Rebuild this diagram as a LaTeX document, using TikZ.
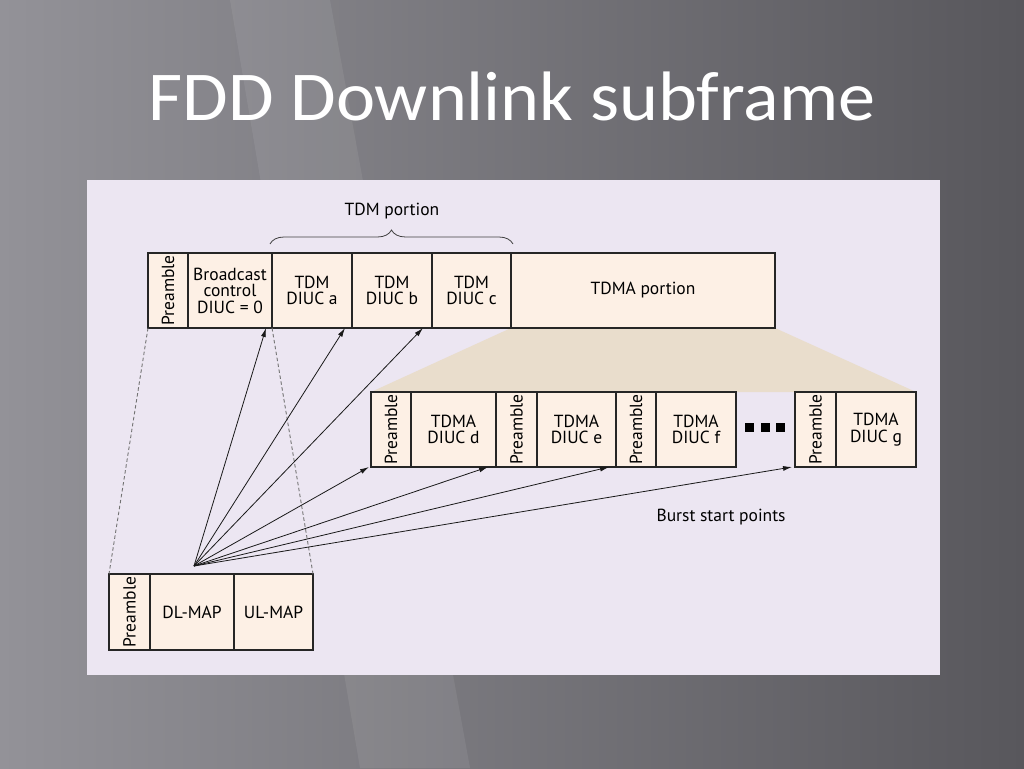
\documentclass[tikz,border=0pt]{standalone}
\usepackage{fontspec}
\setmainfont{PT Sans}
\newfontfamily\titlefont{Carlito}
\usetikzlibrary{arrows.meta,positioning,calc,decorations.pathreplacing,backgrounds}
\definecolor{slidelight}{HTML}{939298}
\definecolor{slidedark}{HTML}{58575C}
\definecolor{panel}{HTML}{ECE6F2}
\definecolor{cellfill}{HTML}{FDF0E5}
\definecolor{zoomfill}{HTML}{E9DDCC}
\pgfdeclarelayer{backdrop}
\pgfsetlayers{backdrop,background,main}
\begin{document}
\begin{tikzpicture}[x=1pt,y=-1pt,
  cell/.style={draw=black!85,line width=1.1pt,fill=cellfill,outer sep=0pt,inner sep=0pt,
    minimum height=75pt,font=\fontsize{17.5}{16.5}\selectfont,align=center},
  prebox/.style={cell,minimum width=40pt},
  link/.style={-{Latex[length=9pt,width=5pt]},line width=0.8pt,black!90},
  guide/.style={dashed,dash pattern=on 3.5pt off 2.5pt,line width=0.9pt,black!55},
  every node/.style={font=\fontsize{17.5}{16.5}\selectfont},
]
  \useasboundingbox (0,0) rectangle (1024,768);
  \begin{pgfonlayer}{backdrop}
    \shade[left color=slidelight,right color=slidedark] (0,0) rectangle (1024,768);
    \fill[white,opacity=0.07] (230,0) -- (330,0) -- (470,768) -- (360,768) -- cycle;
    \fill[panel] (87,180) rectangle (940,675);
  \end{pgfonlayer}

  \node[font=\titlefont\fontsize{70}{70}\selectfont,text=white,anchor=base] (title) at (512,120)
    {\scalebox{1.06}[1]{FDD Downlink subframe}};

  % frame
  \node[prebox,anchor=north west] (pre0) at (148,253) {\rotatebox{90}{Preamble}};
  \node[cell,minimum width=84pt,right=0pt of pre0] (bcast) {Broadcast\\control\\DIUC = 0};
  \node[cell,minimum width=80pt,right=0pt of bcast] (tdma) {TDM\\DIUC a};
  \node[cell,minimum width=80pt,right=0pt of tdma] (tdmb) {TDM\\DIUC b};
  \node[cell,minimum width=79pt,right=0pt of tdmb] (tdmc) {TDM\\DIUC c};
  \node[cell,minimum width=264pt,right=0pt of tdmc] (tdmaport) {TDMA portion};

  \draw[decorate,decoration={brace,amplitude=14pt},line width=0.8pt,black!75]
    ($(tdma.north west)+(-2,-9)$) -- ($(tdmc.north east)+(2,-9)$);
  \node at (392,211) (tdmlabel) {TDM portion};

  % bursts
  \node[prebox,anchor=north west] (pred) at (371,392) {\rotatebox{90}{Preamble}};
  \node[cell,minimum width=85pt,right=0pt of pred] (diucd) {TDMA\\DIUC d};
  \node[prebox,minimum width=41pt,right=0pt of diucd] (pree) {\rotatebox{90}{Preamble}};
  \node[cell,minimum width=79pt,right=0pt of pree] (diuce) {TDMA\\DIUC e};
  \node[prebox,right=0pt of diuce] (pref) {\rotatebox{90}{Preamble}};
  \node[cell,minimum width=80pt,right=0pt of pref] (diucf) {TDMA\\DIUC f};
  \node[prebox,minimum width=41pt,anchor=north west] (preg) at (795,392) {\rotatebox{90}{Preamble}};
  \node[cell,minimum width=80pt,right=0pt of preg] (diucg) {TDMA\\DIUC g};
  \foreach \i in {0,1,2}
    \fill (745+15.5*\i,423) rectangle ++(9,9);

  \begin{pgfonlayer}{background}
    \fill[zoomfill] (tdmaport.south west) -- (tdmaport.south east)
      -- (diucg.north east) -- (pred.north west) -- cycle;
  \end{pgfonlayer}

  % maps
  \node[prebox,minimum width=41pt,minimum height=76pt,anchor=north west] (premap) at (109,574) {\rotatebox{90}{Preamble}};
  \node[cell,minimum width=84pt,minimum height=76pt,right=0pt of premap] (dlmap) {DL-MAP};
  \node[cell,minimum width=79pt,minimum height=76pt,right=0pt of dlmap] (ulmap) {UL-MAP};

  \draw[guide] (pre0.south west) -- (premap.north west);
  \draw[guide] (bcast.south east) -- (ulmap.north east);

  \coordinate (src) at (194,566);
  \foreach \tgt/\dx in {bcast.south east/-6,tdma.south east/-7,tdmb.south east/-9,
      pred.south west/-2,diucd.south east/-8,diuce.south east/-7,preg.south west/-3}
    \draw[link] (src) -- ($(\tgt)+(\dx,0)$);

  \node[anchor=west] (burst) at (653,517) {Burst start points};
\end{tikzpicture}
\end{document}
